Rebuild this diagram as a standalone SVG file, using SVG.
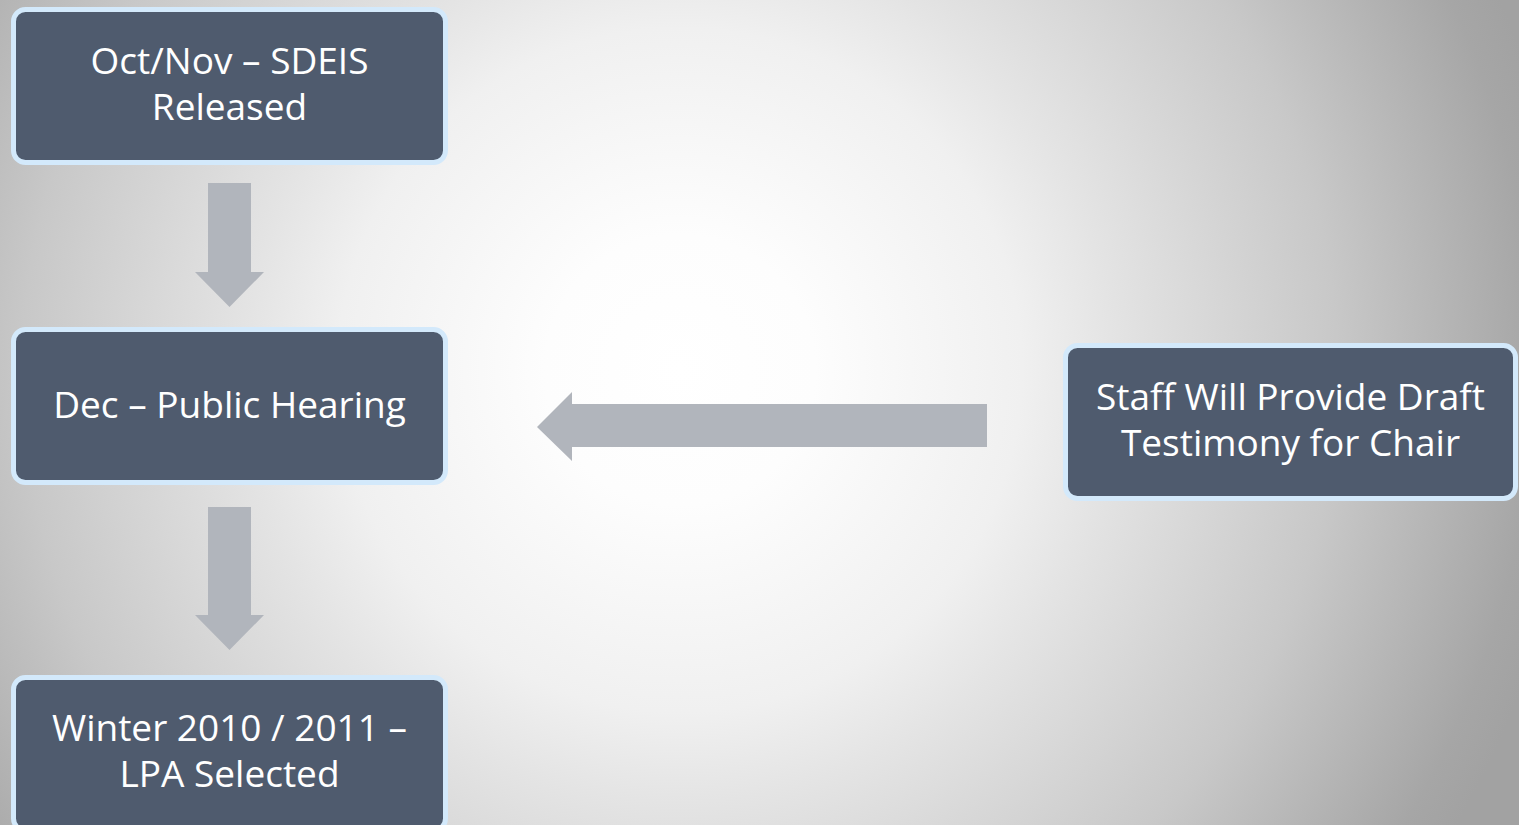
<svg xmlns="http://www.w3.org/2000/svg" width="1519" height="825" viewBox="0 0 1519 825">
<defs>
<radialGradient id="bg" cx="680" cy="370" r="900" gradientUnits="userSpaceOnUse">
<stop offset="0" stop-color="#ffffff"/>
<stop offset="0.15" stop-color="#fdfdfd"/>
<stop offset="0.38" stop-color="#f0f0f0"/>
<stop offset="0.48" stop-color="#e4e4e4"/>
<stop offset="0.73" stop-color="#c8c8c8"/>
<stop offset="0.95" stop-color="#a6a6a6"/>
<stop offset="1" stop-color="#a2a2a2"/>
</radialGradient>
<style>
.box{fill:#4f5b6e;stroke:#d3e9fb;stroke-width:5}
.lbl{fill:#ffffff;font-family:"Open Sans","Noto Sans",sans-serif;font-size:37px;text-anchor:middle}
.arr{fill:#b1b5bc}
</style>
</defs>
<rect width="1519" height="825" fill="url(#bg)"/>
<g id="connectors">
<polygon class="arr" points="208,183 251,183 251,272 264,272 229.5,307 195,272 208,272"/>
<polygon class="arr" points="208,507 251,507 251,615 264,615 229.5,650 195,615 208,615"/>
<polygon class="arr" points="987,404 987,447 572,447 572,461 537,427 572,392 572,404"/>
</g>
<g id="node-sdeis">
<rect class="box" x="13.5" y="9.5" width="432" height="153" rx="12"/>
<text class="lbl" x="229.5" y="74">Oct/Nov – SDEIS</text>
<text class="lbl" x="229.5" y="120">Released</text>
</g>
<g id="node-hearing">
<rect class="box" x="13.5" y="329.5" width="432" height="153" rx="12"/>
<text class="lbl" x="229.5" y="418">Dec – Public Hearing</text>
</g>
<g id="node-lpa">
<rect class="box" x="13.5" y="677.5" width="432" height="153" rx="12"/>
<text class="lbl" x="229.5" y="741">Winter 2010 / 2011 –</text>
<text class="lbl" x="229.5" y="787">LPA Selected</text>
</g>
<g id="node-staff">
<rect class="box" x="1065.5" y="345.5" width="450" height="153" rx="12"/>
<text class="lbl" x="1290.5" y="410">Staff Will Provide Draft</text>
<text class="lbl" x="1290.5" y="456">Testimony for Chair</text>
</g>
</svg>
